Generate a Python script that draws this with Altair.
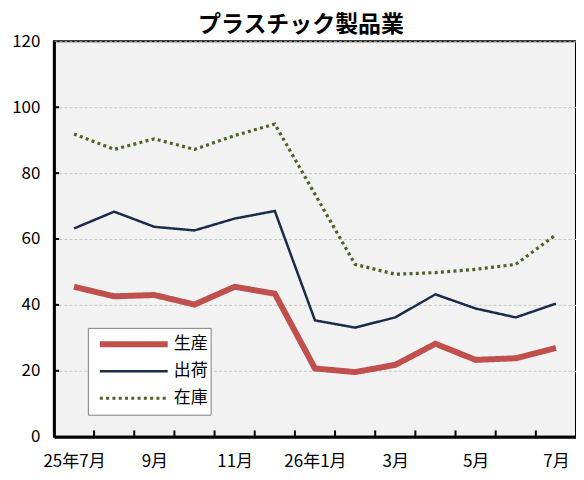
import altair as alt
import pandas as pd

# ---- data ----
months = ["25年7月", "8月", "9月", "10月", "11月", "12月", "26年1月",
          "2月", "3月", "4月", "5月", "6月", "7月"]
seisan = [45.5, 42.6, 43.0, 40.1, 45.5, 43.4, 20.7, 19.6, 21.8, 28.2, 23.3, 23.8, 26.9]
shukka = [63.2, 68.3, 63.7, 62.6, 66.2, 68.5, 35.3, 33.1, 36.2, 43.2, 38.9, 36.2, 40.4]
zaiko = [91.9, 87.2, 90.4, 87.2, 91.4, 94.9, 73.6, 52.3, 49.3, 49.8, 50.8, 52.3, 61.3]
series = ["生産", "出荷", "在庫"]
y_ticks = [0, 20, 40, 60, 80, 100, 120]
label_idx = [0, 2, 4, 6, 8, 10, 12]

FONT = "Noto Sans CJK JP"

rows = []
for name, vals in zip(series, [seisan, shukka, zaiko]):
    for i, v in enumerate(vals):
        rows.append({"i": i, "v": v, "series": name, "order": series.index(name)})
df = pd.DataFrame(rows)

xticks_df = pd.DataFrame({"i": [k + 0.5 for k in range(len(months) - 1)]})
yticks_df = pd.DataFrame({"v": y_ticks[1:-1]})

label_js = "[" + ",".join("'" + m + "'" for m in months) + "][datum.value]"

x_scale = alt.Scale(domain=[-0.5, len(months) - 0.5], nice=False, zero=False)
y_scale = alt.Scale(domain=[y_ticks[0], y_ticks[-1]], nice=False)

x_axis = alt.Axis(values=label_idx, labelExpr=label_js, ticks=False, grid=False,
                  title=None, domainColor="black", domainWidth=3,
                  labelFont=FONT, labelFontSize=17, labelColor="black",
                  labelPadding=17, labelAngle=0)
y_axis = alt.Axis(values=y_ticks, ticks=False, grid=True, gridColor="#C8C8C8",
                  gridDash=[3, 2], gridWidth=1, title=None, domainColor="black",
                  domainWidth=3, labelFont=FONT, labelFontSize=17,
                  labelColor="black", labelPadding=14)

lines = alt.Chart(df).mark_line(strokeCap="butt").encode(
    x=alt.X("i:Q", scale=x_scale, axis=x_axis),
    y=alt.Y("v:Q", scale=y_scale, axis=y_axis),
    color=alt.Color("series:N",
                    scale=alt.Scale(domain=series, range=["#C0504D", "#1C2B4A", "#4F6228"]),
                    legend=alt.Legend(title=None, orient="none", legendX=34, legendY=287,
                                      symbolType="stroke", symbolSize=4624,
                                      symbolOffset=6, clipHeight=27, rowPadding=0,
                                      padding=3, labelFont=FONT, labelFontSize=17,
                                      labelColor="black", labelOffset=3,
                                      strokeColor="#808080", fillColor="white",
                                      cornerRadius=0)),
    strokeDash=alt.StrokeDash("series:N",
                              scale=alt.Scale(type="ordinal", domain=series,
                                              range=[[1, 0], [1, 0], [3, 3.3]]),
                              legend=alt.Legend(title=None)),
    strokeWidth=alt.StrokeWidth("series:N",
                                scale=alt.Scale(type="ordinal", domain=series,
                                                range=[6, 2.5, 3.2]),
                                legend=alt.Legend(title=None)),
    detail="series:N",
    order="order:Q",
)

xt = alt.Chart(xticks_df).mark_rule(color="black", strokeWidth=2).encode(
    x=alt.X("i:Q", scale=x_scale, axis=x_axis),
    y=alt.datum(0, scale=y_scale),
    y2=alt.datum(1.9),
)

yt = alt.Chart(yticks_df).mark_rule(color="black", strokeWidth=2).encode(
    y=alt.Y("v:Q", scale=y_scale, axis=y_axis),
    x=alt.datum(-0.5),
    x2=alt.datum(-0.37),
)

chart = alt.layer(lines, xt, yt).properties(
    width=523,
    height=396,
    padding={"left": 3, "top": 6, "right": 0, "bottom": 4},
    title=alt.TitleParams("プラスチック製品業", font=FONT, fontSize=23,
                          fontWeight="bold", color="black", anchor="middle",
                          dx=-14, offset=-5),
    background="white",
).configure_view(
    fill="#F2F2F2", stroke="black", strokeWidth=2
)

chart.save("out.html", embed_options={"renderer": "svg", "actions": False})
